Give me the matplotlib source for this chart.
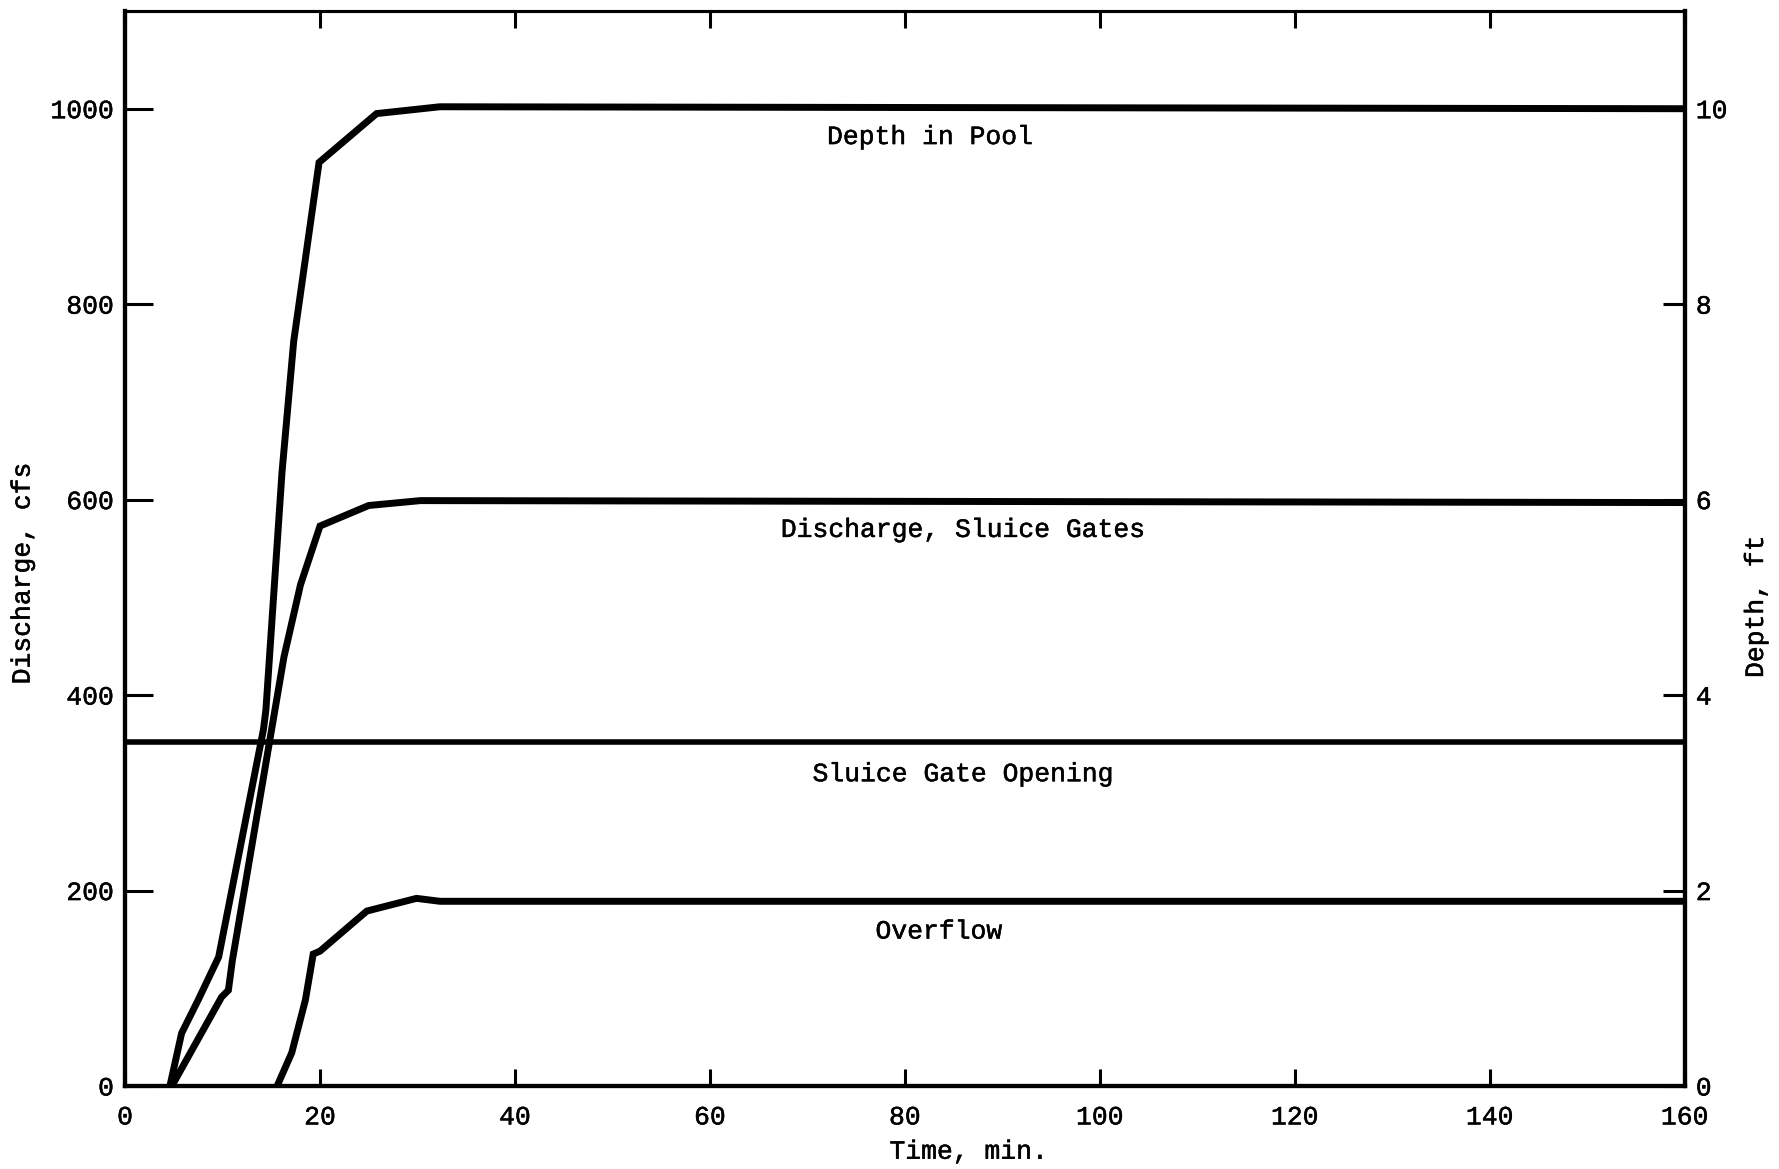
import matplotlib
matplotlib.use("Agg")
import matplotlib.pyplot as plt
import matplotlib.patheffects as pe

plt.rcParams['font.family'] = ['Liberation Mono', 'DejaVu Sans Mono']

# Depth in pool, ft
pool_time = [4.6, 5.8, 7.5, 9.6, 14.2, 14.45, 16.1, 17.3, 19.9, 25.8, 32.3, 160]
pool_depth = [0, 0.54, 0.88, 1.32, 3.65, 3.85, 6.28, 7.62, 9.45, 9.95, 10.02, 10.0]

# Sluice gate opening, ft (held constant)
gate_time = [0, 160]
gate_opening = [3.52, 3.52]

# Discharge through the sluice gates, cfs
sluice_time = [4.8, 9.9, 10.6, 11.0, 14.9, 16.3, 18.0, 20.0, 25.0, 30.3, 160]
sluice_q = [0, 91, 98, 128, 357, 439, 513, 573, 594, 599, 597]

# Overflow discharge, cfs
over_time = [15.6, 17.1, 18.5, 19.3, 20.0, 24.8, 29.9, 32.3, 160]
over_q = [0, 34, 88, 135, 138, 179, 192, 189, 189]

x_ticks = [0, 20, 40, 60, 80, 100, 120, 140, 160]
q_ticks = [0, 200, 400, 600, 800, 1000]
depth_ticks = [0, 2, 4, 6, 8, 10]

FS = 19
LW = 5.0
# slightly heavier strokes for the typewritten text
heavy = [pe.withStroke(linewidth=0.35, foreground='black')]

fig = plt.figure(figsize=(17.79, 11.69), dpi=100)
ax = fig.add_axes([0.0703, 0.071, 0.8767, 0.9196])
ax2 = ax.twinx()

ax.plot(sluice_time, sluice_q, color='black', lw=LW, solid_joinstyle='miter')
ax.plot(over_time, over_q, color='black', lw=LW, solid_joinstyle='miter')
ax2.plot(pool_time, pool_depth, color='black', lw=LW, solid_joinstyle='miter')
ax2.plot(gate_time, gate_opening, color='black', lw=4.0)

ax.set_xlim(0, 160)
ax.set_ylim(0, 1100)
ax2.set_ylim(0, 11)

ax.set_xticks(x_ticks)
ax.set_yticks(q_ticks)
ax2.set_yticks(depth_ticks)

ax.tick_params(axis='y', direction='in', length=20, width=2.2, pad=8,
               labelsize=FS, right=False)
ax.tick_params(axis='x', direction='in', length=12, width=2.2, pad=14,
               labelsize=FS, top=True)
ax2.tick_params(axis='y', direction='in', length=16, width=2.2, pad=8,
                labelsize=FS, left=False)

for a in (ax, ax2):
    for side in ('left', 'bottom', 'right'):
        a.spines[side].set_linewidth(3.0)
    a.spines['top'].set_linewidth(2.2)

ax.set_xlabel('Time, min.', fontsize=FS)
ax.xaxis.set_label_coords(0.541, -0.050)
ax.set_ylabel('Discharge, cfs', fontsize=FS)
ax.yaxis.set_label_coords(-0.058, 0.477)
ax2.set_ylabel('Depth, ft', fontsize=FS)
ax2.yaxis.set_label_coords(1.038, 0.446)

# curve labels
ax.text(82.6, 971, 'Depth in Pool', fontsize=FS, ha='center', va='center')
ax.text(86, 569, 'Discharge, Sluice Gates', fontsize=FS, ha='center', va='center')
ax.text(86, 319, 'Sluice Gate Opening', fontsize=FS, ha='center', va='center')
ax.text(83.5, 158, 'Overflow', fontsize=FS, ha='center', va='center')

for t in ax.texts + [ax.xaxis.label, ax.yaxis.label, ax2.yaxis.label]:
    t.set_path_effects(heavy)
for lbl in ax.get_xticklabels() + ax.get_yticklabels() + ax2.get_yticklabels():
    lbl.set_path_effects(heavy)

fig.savefig('out.png', dpi=100)
